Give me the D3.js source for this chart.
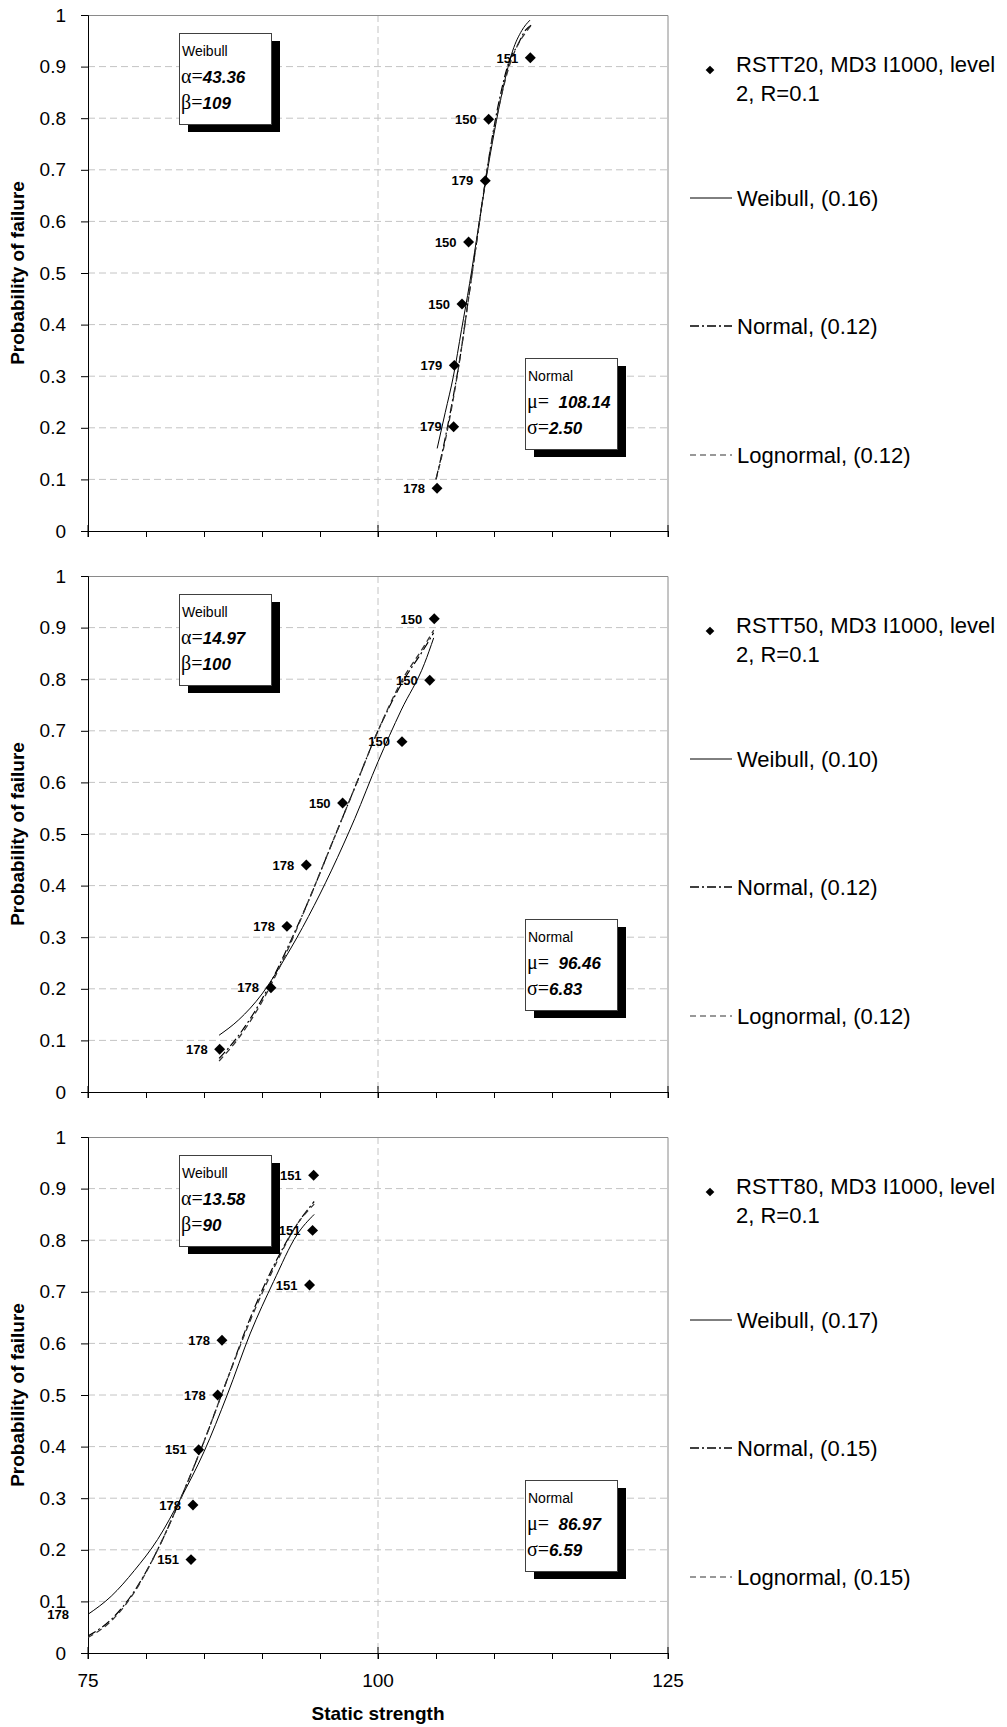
<!DOCTYPE html>
<html>
<head>
<meta charset="utf-8">
<script src="https://cdn.jsdelivr.net/npm/d3@7"></script>
<style>
  body { margin: 0; background: #fff; }
  text { font-family: Arial, "Liberation Sans", sans-serif; }
</style>
</head>
<body>
<div id="root"></div>
<script>
// Axis ticks
const xTicks = [75, 100, 125]
const xMinorTicks = [75, 80, 85, 90, 95, 100, 105, 110, 115, 120, 125]
const yTicks = [0, 0.1, 0.2, 0.3, 0.4, 0.5, 0.6, 0.7, 0.8, 0.9, 1]
const yTickLabels = ['0', '0.1', '0.2', '0.3', '0.4', '0.5', '0.6', '0.7', '0.8', '0.9', '1']

// Test series names (legend, two lines each)
const seriesNames = [
  ['RSTT20, MD3 I1000, level', '2, R=0.1'],
  ['RSTT50, MD3 I1000, level', '2, R=0.1'],
  ['RSTT80, MD3 I1000, level', '2, R=0.1']
]

// Measured points: static strength, probability of failure, point label
const strength20 = [105.09, 106.52, 106.58, 107.24, 107.81, 109.25, 109.54, 113.13]
const prob20 = [0.083, 0.202, 0.321, 0.440, 0.560, 0.679, 0.798, 0.917]
const labels20 = ['178', '179', '179', '150', '150', '179', '150', '151']

const strength50 = [86.35, 90.77, 92.15, 93.82, 96.95, 102.07, 104.46, 104.85]
const prob50 = [0.083, 0.202, 0.321, 0.440, 0.560, 0.679, 0.798, 0.917]
const labels50 = ['178', '178', '178', '178', '150', '150', '150', '150']

const strength80 = [74.4, 83.88, 84.05, 84.54, 86.18, 86.55, 94.1, 94.36, 94.45]
const prob80 = [0.074, 0.181, 0.287, 0.394, 0.500, 0.606, 0.713, 0.819, 0.926]
const labels80 = ['178', '151', '178', '151', '178', '178', '151', '151', '151']

// Fitted curves [strength, probability]
const weibull20 = [[105.1, 0.16], [105.8, 0.23], [106.5, 0.30], [107.2, 0.39], [107.9, 0.48], [108.6, 0.58], [109.3, 0.68], [110.0, 0.77], [110.8, 0.86], [111.6, 0.93], [112.4, 0.97], [113.1, 0.99]]
const normal20 = [[105.0, 0.10], [105.7, 0.17], [106.4, 0.25], [107.1, 0.34], [107.8, 0.45], [108.5, 0.56], [109.2, 0.67], [109.9, 0.77], [110.6, 0.85], [111.3, 0.91], [112.0, 0.94], [112.7, 0.97], [113.2, 0.98]]
const lognormal20 = [[105.0, 0.10], [105.7, 0.165], [106.4, 0.245], [107.1, 0.34], [107.8, 0.45], [108.5, 0.56], [109.2, 0.67], [109.9, 0.765], [110.6, 0.84], [111.3, 0.90], [112.0, 0.94], [112.7, 0.965], [113.2, 0.98]]

const weibull50 = [[86.3, 0.11], [88, 0.14], [90, 0.19], [92, 0.26], [94, 0.34], [96, 0.43], [98, 0.53], [100, 0.64], [102, 0.74], [104, 0.83], [104.8, 0.88]]
const normal50 = [[86.3, 0.065], [88, 0.11], [90, 0.18], [92, 0.27], [94, 0.37], [96, 0.48], [98, 0.59], [100, 0.70], [102, 0.79], [104, 0.86], [104.8, 0.89]]
const lognormal50 = [[86.3, 0.06], [88, 0.105], [90, 0.175], [92, 0.265], [94, 0.37], [96, 0.48], [98, 0.59], [100, 0.70], [102, 0.795], [104, 0.865], [104.8, 0.895]]

const weibull80 = [[75, 0.075], [77, 0.11], [79, 0.16], [81, 0.22], [83, 0.30], [85, 0.39], [87, 0.50], [89, 0.62], [91, 0.72], [93, 0.81], [94.5, 0.85]]
const normal80 = [[75, 0.033], [77, 0.065], [79, 0.12], [81, 0.20], [83, 0.30], [85, 0.41], [87, 0.53], [89, 0.65], [91, 0.75], [93, 0.83], [94.5, 0.875]]
const lognormal80 = [[75, 0.03], [77, 0.062], [79, 0.118], [81, 0.20], [83, 0.30], [85, 0.41], [87, 0.53], [89, 0.645], [91, 0.745], [93, 0.83], [94.5, 0.87]]

// Fit parameters and goodness values shown in boxes / legend
const weibullAlpha = ['43.36', '14.97', '13.58']
const weibullBeta = ['109', '100', '90']
const normalMu = ['108.14', '96.46', '86.97']
const normalSigma = ['2.50', '6.83', '6.59']
const weibullFit = ['0.16', '0.10', '0.17']
const normalFit = ['0.12', '0.12', '0.15']
const lognormalFit = ['0.12', '0.12', '0.15']

const panels = [
  { strength: strength20, prob: prob20, labels: labels20, curves: [weibull20, normal20, lognormal20] },
  { strength: strength50, prob: prob50, labels: labels50, curves: [weibull50, normal50, lognormal50] },
  { strength: strength80, prob: prob80, labels: labels80, curves: [weibull80, normal80, lognormal80] }
]

// Layout
const width = 1007
const height = 1727
const plotLeft = 88
const plotWidth = 580
const plotHeight = 516
const panelTops = [15, 576, 1137]

// Line styles: Weibull, Normal, Lognormal
const curveStyles = [
  { stroke: '#000', width: 1, dash: null },
  { stroke: '#000', width: 1.2, dash: '9,3,2,3' },
  { stroke: '#333', width: 1.3, dash: '6,4' }
]

const svg = d3.select('#root').append('svg')
  .attr('width', width)
  .attr('height', height)

const xScale = d3.scaleLinear().domain([75, 125]).range([0, plotWidth])
const yScale = d3.scaleLinear().domain([0, 1]).range([plotHeight, 0])

const line = d3.line()
  .x(d => xScale(d[0]))
  .y(d => yScale(d[1]))
  .curve(d3.curveMonotoneX)

const diamond = d3.symbol(d3.symbolSquare, 60)

panels.forEach((p, i) => {
  const g = svg.append('g')
    .attr('transform', `translate(${plotLeft},${panelTops[i]})`)

  g.append('clipPath').attr('id', 'clip' + i)
    .append('rect').attr('width', plotWidth).attr('height', plotHeight)

  // Grid lines
  g.append('g').selectAll('line')
    .data(yTicks.filter(t => t > 0 && t < 1))
    .enter().append('line')
    .attr('x1', 0).attr('x2', plotWidth)
    .attr('y1', d => yScale(d)).attr('y2', d => yScale(d))
    .attr('stroke', '#c4c4c4').attr('stroke-dasharray', '7,4')
  g.append('line')
    .attr('x1', xScale(100)).attr('x2', xScale(100))
    .attr('y1', 0).attr('y2', plotHeight)
    .attr('stroke', '#c4c4c4').attr('stroke-dasharray', '7,4')

  // Top and right frame
  g.append('path')
    .attr('d', `M0,0.5H${plotWidth}V${plotHeight}`)
    .attr('fill', 'none').attr('stroke', '#8a8a8a')

  // Y axis
  const yAxis = g.append('g')
    .call(d3.axisLeft(yScale).tickValues(yTicks).tickSize(7).tickPadding(15)
      .tickFormat((d, k) => yTickLabels[k]))
  yAxis.selectAll('text').attr('font-size', 19)
  yAxis.select('.domain').attr('stroke', '#000')

  // X axis with minor ticks, major ticks cross the axis
  const xAxis = g.append('g')
    .attr('transform', `translate(0,${plotHeight})`)
    .call(d3.axisBottom(xScale).tickValues(xMinorTicks).tickSize(6).tickSizeOuter(0).tickFormat(''))
  xAxis.select('.domain').attr('stroke', '#000')
  xAxis.selectAll('.major').data(xTicks).enter().append('line')
    .attr('x1', d => xScale(d)).attr('x2', d => xScale(d))
    .attr('y1', -6).attr('y2', 6).attr('stroke', '#000')

  if (i === panels.length - 1) {
    xAxis.selectAll('.lbl').data(xTicks).enter().append('text')
      .attr('x', d => xScale(d)).attr('y', 34)
      .attr('text-anchor', 'middle').attr('font-size', 19).attr('fill', '#000')
      .text(d => d)
    g.append('text')
      .attr('x', xScale(100)).attr('y', plotHeight + 67)
      .attr('text-anchor', 'middle').attr('font-size', 19).attr('font-weight', 'bold')
      .text('Static strength')
  }

  // Y title
  g.append('text')
    .attr('transform', `translate(${24 - plotLeft},${plotHeight / 2}) rotate(-90)`)
    .attr('text-anchor', 'middle').attr('font-size', 19).attr('font-weight', 'bold')
    .text('Probability of failure')

  // Fitted curves
  const curves = g.append('g').attr('clip-path', `url(#clip${i})`)
  p.curves.forEach((c, k) => {
    curves.append('path')
      .datum(c)
      .attr('fill', 'none')
      .attr('stroke', curveStyles[k].stroke)
      .attr('stroke-width', curveStyles[k].width)
      .attr('stroke-dasharray', curveStyles[k].dash)
      .attr('d', line)
  })

  // Points
  const pts = p.strength.map((s, k) => ({ s: s, p: p.prob[k], label: p.labels[k] }))
  curves.selectAll('.pt').data(pts).enter().append('path')
    .attr('d', diamond)
    .attr('transform', d => `translate(${xScale(d.s)},${yScale(d.p)}) rotate(45)`)
    .attr('fill', '#000')
  g.selectAll('.ptlabel').data(pts).enter().append('text')
    .attr('x', d => xScale(d.s) - 12)
    .attr('y', d => yScale(d.p))
    .attr('dy', '0.36em')
    .attr('text-anchor', 'end').attr('font-size', 13).attr('font-weight', 'bold')
    .text(d => d.label)

  // Parameter boxes
  const box = (bx, by, lines) => {
    const b = g.append('g').attr('transform', `translate(${bx},${by})`)
    b.append('rect').attr('x', 9).attr('y', 8).attr('width', 92).attr('height', 91).attr('fill', '#000')
    b.append('rect').attr('x', 0.5).attr('y', 0.5).attr('width', 92).attr('height', 91)
      .attr('fill', '#fff').attr('stroke', '#404040')
    b.append('text').attr('x', 3).attr('y', 23).attr('font-size', 14).text(lines[0])
    lines.slice(1).forEach((l, k) => {
      const t = b.append('text').attr('x', 2).attr('y', 50 + k * 26)
      t.append('tspan').attr('font-family', '"Liberation Serif", "DejaVu Serif", serif')
        .attr('font-size', 20).text(l[0])
      t.append('tspan').attr('font-size', 17).attr('font-weight', 'bold')
        .attr('font-style', 'italic').text(l[1])
    })
  }
  box(91, 18, ['Weibull', ['\u03b1=', weibullAlpha[i]], ['\u03b2=', weibullBeta[i]]])
  box(437, 343, ['Normal', ['\u03bc=', '\u00a0 ' + normalMu[i]], ['\u03c3=', normalSigma[i]]])

  // Legend
  const lg = svg.append('g').attr('transform', `translate(0,${panelTops[i]})`)
  lg.append('path')
    .attr('d', d3.symbol(d3.symbolSquare, 38))
    .attr('transform', 'translate(710,55) rotate(45)')
    .attr('fill', '#000')
  seriesNames[i].forEach((s, k) => {
    lg.append('text').attr('x', 736).attr('y', 57 + k * 29)
      .attr('font-size', 22).text(s)
  })
  const entries = [
    ['Weibull, (' + weibullFit[i] + ')', 183],
    ['Normal, (' + normalFit[i] + ')', 311],
    ['Lognormal, (' + lognormalFit[i] + ')', 440]
  ]
  entries.forEach((e, k) => {
    lg.append('line')
      .attr('x1', 690).attr('x2', 732)
      .attr('y1', e[1]).attr('y2', e[1])
      .attr('stroke', k === 2 ? '#777' : curveStyles[k].stroke)
      .attr('stroke-width', k === 0 ? 1 : 1.3)
      .attr('stroke-dasharray', curveStyles[k].dash)
    lg.append('text').attr('x', 737).attr('y', e[1] + 8)
      .attr('font-size', 22).text(e[0])
  })
})
</script>
</body>
</html>
